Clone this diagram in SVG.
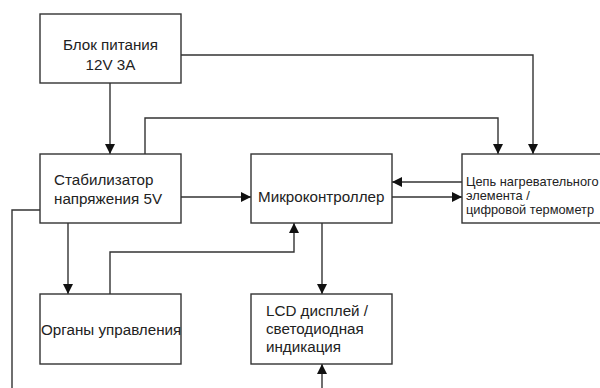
<svg xmlns="http://www.w3.org/2000/svg" width="600" height="388" viewBox="0 0 600 388">
<style>
.box{fill:#fff;stroke:#333;stroke-width:1.4}
.t{font-family:"Liberation Sans",Arial,sans-serif;font-size:15.2px;fill:#222}
.s{font-family:"Liberation Sans",Arial,sans-serif;font-size:12.8px;fill:#222}
.c{fill:none;stroke:#333;stroke-width:1.4}
</style>
<defs>
<marker id="a" viewBox="0 0 10 10" refX="10" refY="5" markerWidth="11" markerHeight="10" markerUnits="userSpaceOnUse" orient="auto">
<path d="M0,0 L10,5 L0,10 z" fill="#111"/>
</marker>
</defs>
<rect width="600" height="388" fill="#fff"/>
<g id="connectors">
<path class="c" d="M110,83 V154" marker-end="url(#a)"/>
<path class="c" d="M181,55 H533 V154" marker-end="url(#a)"/>
<path class="c" d="M145,154 V118 H498 V154" marker-end="url(#a)"/>
<path class="c" d="M181,197 H251" marker-end="url(#a)"/>
<path class="c" d="M462,182 H392" marker-end="url(#a)"/>
<path class="c" d="M392,197 H462" marker-end="url(#a)"/>
<path class="c" d="M40,210 H12 V388"/>
<path class="c" d="M68,223 V294" marker-end="url(#a)"/>
<path class="c" d="M110,294 V252 H294 V223" marker-end="url(#a)"/>
<path class="c" d="M322,223 V294" marker-end="url(#a)"/>
<path class="c" d="M322,388 V364" marker-end="url(#a)"/>
</g>
<g id="power">
<rect class="box" x="40" y="14" width="141" height="69"/>
<text class="t" x="110.5" y="50" text-anchor="middle">Блок питания</text>
<text class="t" x="110.5" y="70" text-anchor="middle">12V 3A</text>
</g>
<g id="stabilizer">
<rect class="box" x="40" y="154" width="141" height="69"/>
<text class="t" x="54" y="185">Стабилизатор</text>
<text class="t" x="54" y="204">напряжения 5V</text>
</g>
<g id="mcu">
<rect class="box" x="251" y="154" width="141" height="69"/>
<text class="t" x="258" y="202">Микроконтроллер</text>
</g>
<g id="heater">
<rect class="box" x="462" y="154" width="150" height="69"/>
<text class="s" x="466" y="186">Цепь нагревательного</text>
<text class="s" x="466" y="200">элемента /</text>
<text class="s" x="466" y="214">цифровой термометр</text>
</g>
<g id="controls">
<rect class="box" x="40" y="294" width="141" height="70"/>
<text class="t" x="41" y="335">Органы управления</text>
</g>
<g id="lcd">
<rect class="box" x="251" y="294" width="141" height="70"/>
<text class="t" x="266" y="316">LCD дисплей /</text>
<text class="t" x="266" y="334">светодиодная</text>
<text class="t" x="266" y="352">индикация</text>
</g>
</svg>
